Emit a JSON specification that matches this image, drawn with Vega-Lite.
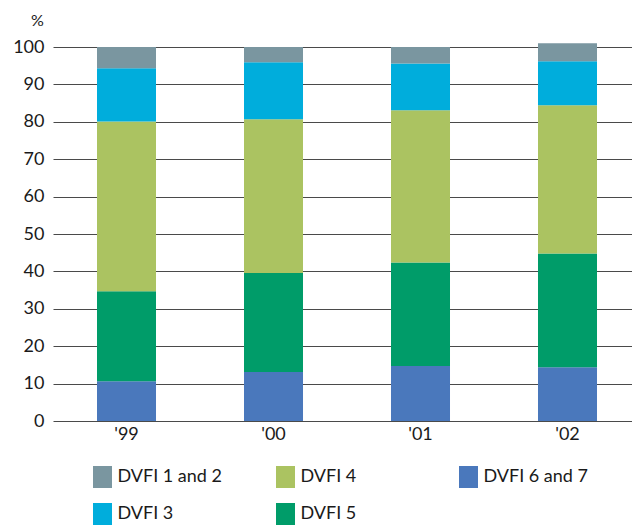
{
  "$schema": "https://vega.github.io/schema/vega-lite/v6.json",
  "autosize": "none",
  "padding": {"left": 53, "top": 47, "right": 0, "bottom": 107},
  "width": 579,
  "height": 374,
  "background": "white",
  "data": {
    "values": [
      {"year": "'99", "category": "DVFI 6 and 7", "value": 10.6},
      {"year": "'99", "category": "DVFI 5", "value": 24.1},
      {"year": "'99", "category": "DVFI 4", "value": 45.4},
      {"year": "'99", "category": "DVFI 3", "value": 14.2},
      {"year": "'99", "category": "DVFI 1 and 2", "value": 5.7},
      {"year": "'00", "category": "DVFI 6 and 7", "value": 13.1},
      {"year": "'00", "category": "DVFI 5", "value": 26.5},
      {"year": "'00", "category": "DVFI 4", "value": 41.1},
      {"year": "'00", "category": "DVFI 3", "value": 15.2},
      {"year": "'00", "category": "DVFI 1 and 2", "value": 4.1},
      {"year": "'01", "category": "DVFI 6 and 7", "value": 14.7},
      {"year": "'01", "category": "DVFI 5", "value": 27.7},
      {"year": "'01", "category": "DVFI 4", "value": 40.7},
      {"year": "'01", "category": "DVFI 3", "value": 12.5},
      {"year": "'01", "category": "DVFI 1 and 2", "value": 4.4},
      {"year": "'02", "category": "DVFI 6 and 7", "value": 14.4},
      {"year": "'02", "category": "DVFI 5", "value": 30.4},
      {"year": "'02", "category": "DVFI 4", "value": 39.6},
      {"year": "'02", "category": "DVFI 3", "value": 11.8},
      {"year": "'02", "category": "DVFI 1 and 2", "value": 4.8}
    ]
  },
  "mark": {"type": "bar", "stroke": null},
  "encoding": {
    "x": {
      "field": "year",
      "type": "nominal",
      "sort": ["'99", "'00", "'01", "'02"],
      "scale": {"paddingInner": 0.5986, "paddingOuter": 0.2687, "align": 0.557},
      "axis": {
        "title": null,
        "labelAngle": 0,
        "domain": false,
        "ticks": false,
        "labelPadding": 4,
        "labelFont": "Lato",
        "labelFontSize": 18,
        "labelColor": "#1a1a1a"
      }
    },
    "y": {
      "field": "value",
      "type": "quantitative",
      "stack": "zero",
      "scale": {"domain": [0, 100], "nice": false},
      "axis": {
        "values": [0, 10, 20, 30, 40, 50, 60, 70, 80, 90, 100],
        "title": "%",
        "titleAngle": 0,
        "titleX": -16,
        "titleY": -27,
        "titleAlign": "center",
        "titleBaseline": "middle",
        "titleFont": "Lato",
        "titleFontSize": 16,
        "titleFontWeight": "normal",
        "titleColor": "#1a1a1a",
        "domain": false,
        "ticks": false,
        "grid": true,
        "gridColor": "#4a4a4a",
        "gridWidth": 1.2,
        "gridOpacity": 1,
        "labelPadding": 9,
        "labelFont": "Lato",
        "labelFontSize": 18,
        "labelColor": "#1a1a1a"
      }
    },
    "color": {
      "field": "category",
      "type": "nominal",
      "scale": {
        "domain": ["DVFI 1 and 2", "DVFI 4", "DVFI 6 and 7", "DVFI 3", "DVFI 5"],
        "range": ["#7A96A0", "#ABC361", "#4A78BC", "#00ADDC", "#009C69"]
      },
      "legend": {
        "title": null,
        "orient": "none",
        "legendX": 38.5,
        "legendY": 419,
        "direction": "horizontal",
        "columns": 3,
        "gridAlign": "all",
        "columnPadding": 52,
        "rowPadding": 15,
        "padding": 0,
        "symbolType": "M-0.864,-1H0.864V1H-0.864Z",
        "symbolSize": 484,
        "symbolStrokeWidth": 0,
        "symbolOpacity": 1,
        "labelOffset": 4,
        "labelFont": "Lato",
        "labelFontSize": 18,
        "labelColor": "#1a1a1a",
        "labelLimit": 300
      }
    },
    "order": {"field": "category", "sort": "descending"}
  },
  "config": {
    "view": {"stroke": null}
  }
}
